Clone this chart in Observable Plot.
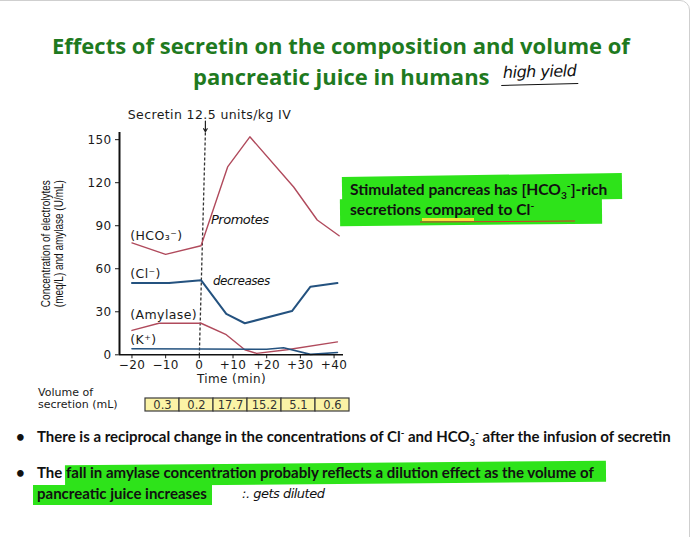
<!DOCTYPE html>
<html><head><meta charset="utf-8">
<script src="https://cdn.jsdelivr.net/npm/d3@7"></script>
<script src="https://cdn.jsdelivr.net/npm/@observablehq/plot@0.6"></script>
<style>
body{margin:0;background:#fff;}
#page{position:relative;width:691px;height:537px;overflow:hidden;background:#fff;}
#frame{position:absolute;left:-12px;top:0;width:702px;height:560px;border:1px solid #cfcfcf;border-radius:10px;box-sizing:border-box;}
.abs{position:absolute;white-space:nowrap;line-height:1;}
.title{font-family:'Open Sans',Lato,sans-serif;font-weight:700;color:#1f7a1f;font-size:22px;}
.hand{font-family:'DejaVu Sans',sans-serif;font-style:italic;font-size:13px;color:#111;letter-spacing:-0.5px;}
.txt{font-family:Lato,sans-serif;font-weight:700;font-size:15px;color:#111;}
.hl{position:absolute;background:#2ee31a;}
.lab{font-family:'DejaVu Sans',sans-serif;font-size:11px;color:#1a1a1a;}
sub,sup{font-size:65%;line-height:0;}
#chart,#table{position:absolute;}
</style></head>
<body><div id="page">
<div id="frame"></div>
<div class="abs title" style="left:52px;top:34px;">Effects of secretin on the composition and volume of</div>
<div class="abs title" style="left:193px;top:65px;">pancreatic juice in humans</div>
<div class="abs hand" style="left:501px;top:64px;font-size:16px;padding:0 2px 4px 2px;border-bottom:1.2px solid #111;transform:rotate(-1.5deg);">high yield</div>

<div class="hl" style="left:342px;top:175px;width:280px;height:26px;transform:rotate(-0.8deg);"></div>
<div class="hl" style="left:340px;top:198px;width:262px;height:27px;transform:rotate(-0.6deg);"></div>
<div class="abs" style="left:422px;top:218px;width:52px;height:3px;background:#f3e23a;"></div>
<div class="abs" style="left:420px;top:221px;width:155px;height:1.2px;background:#d93030;transform:rotate(-0.4deg);"></div>
<div class="abs txt" style="left:350px;top:182px;font-size:15.6px;">Stimulated pancreas has [HCO<sub>3</sub><sup>-</sup>]-rich</div>
<div class="abs txt" style="left:350px;top:202px;font-size:15.6px;">secretions compared to Cl<sup>-</sup></div>

<div id="chart" style="left:0;top:100px;"></div>
<div class="abs hand" style="left:211px;top:213px;">Promotes</div>
<div class="abs hand" style="left:213px;top:275px;font-size:12px;">decreases</div>

<div class="abs lab" style="left:38px;top:386.5px;">Volume of</div>
<div class="abs lab" style="left:38px;top:398.5px;">secretion (mL)</div>
<div id="table" style="left:141.7px;top:397px;"></div>

<div class="hl" style="left:65px;top:463px;width:541px;height:21px;transform:rotate(-0.5deg);"></div>
<div class="hl" style="left:33px;top:485px;width:179px;height:20px;"></div>
<div class="abs txt" style="left:16px;top:429px;">•</div>
<div class="abs txt" style="left:37px;top:429px;">There is a reciprocal change in the concentrations of Cl<sup>-</sup> and HCO<sub>3</sub><sup>-</sup> after the infusion of secretin</div>
<div class="abs txt" style="left:16px;top:465px;">•</div>
<div class="abs txt" style="left:37px;top:465px;">The fall in amylase concentration probably reflects a dilution effect as the volume of</div>
<div class="abs txt" style="left:37px;top:486px;">pancreatic juice increases</div>
<div class="abs hand" style="left:242px;top:487px;">:. gets diluted</div>
</div>
<script>
// ---- data ----
const hco3Time = [-20, -10, 0.5, 8.4, 15, 28, 35, 41.5];
const hco3Val  = [78, 70, 76, 131, 152, 117, 94, 83];
const clTime   = [-20, -9, 0.5, 8, 13.5, 27.5, 33, 41];
const clVal    = [50, 50, 52, 28.5, 22, 30.5, 47.5, 50];
const amyTime  = [-20, -12, 0.5, 8, 13.5, 17, 26, 41];
const amyVal   = [17, 22, 22, 14, 3.5, 1, 3.5, 9];
const kTime    = [-20, 0, 20, 25, 33, 41];
const kVal     = [4.2, 4, 3.9, 4.9, 0.3, 1.6];
const seriesNames = ["(HCO₃⁻)", "(Cl⁻)", "(Amylase)", "(K⁺)"];
const seriesLabelY = [82.5, 56, 27.5, 10];
const xTicks = [-20, -10, 0, 10, 20, 30, 40];
const xTickLabels = ["−20", "−10", "0", "+10", "+20", "+30", "+40"];
const yTicks = [0, 30, 60, 90, 120, 150];
const xDomain = [-23.7, 42.8];
const yDomain = [0, 155];
const intervals = ["−20 to −10", "−10 to 0", "0 to +10", "+10 to +20", "+20 to +30", "+30 to +40"];
const volumes = ["0.3", "0.2", "17.7", "15.2", "5.1", "0.6"];
const injection = {label: "Secretin 12.5 units/kg IV", time: 0};
const yLabelLines = ["Concentration of electrolytes", "(meq/L) and amylase (U/mL)"];

const red = "#b04a5c", blue = "#24527f";
const pts = (t, v) => t.map((x, i) => ({x, y: v[i]}));
const series = [
  {name: seriesNames[0], data: pts(hco3Time, hco3Val), color: red, w: 1.4},
  {name: seriesNames[1], data: pts(clTime, clVal), color: blue, w: 2},
  {name: seriesNames[2], data: pts(amyTime, amyVal), color: red, w: 1.4},
  {name: seriesNames[3], data: pts(kTime, kVal), color: blue, w: 1.6}
];

const chart = Plot.plot({
  width: 360, height: 290,
  marginLeft: 119, marginRight: 17, marginTop: 32, marginBottom: 35.7,
  style: {fontFamily: "'DejaVu Sans', sans-serif", fontSize: "12px", color: "#1a1a1a", background: "transparent", overflow: "visible", letterSpacing: "0.4px"},
  x: {domain: xDomain, ticks: xTicks, tickFormat: d => xTickLabels[xTicks.indexOf(d)], tickSize: 4, tickPadding: 2, label: null},
  y: {domain: yDomain, ticks: yTicks, tickSize: 4, tickPadding: 4, label: null},
  marks: [
    Plot.link([injection], {x1: d => d.time + 1.8, y1: yDomain[1], x2: d => d.time, y2: 0, stroke: "#333", strokeWidth: 1.3, strokeDasharray: "3,2"}),
    Plot.arrow([injection], {x1: d => d.time + 1.8, y1: 163, x2: d => d.time + 1.8, y2: 155.5, stroke: "#222", strokeWidth: 1.2, headLength: 6}),
    Plot.text([injection], {x: d => d.time + 3, y: 167, text: "label", fontSize: 12.5}),
    ...series.map(s => Plot.line(s.data, {x: "x", y: "y", stroke: s.color, strokeWidth: s.w})),
    Plot.text(seriesNames, {x: -20.5, y: (d, i) => seriesLabelY[i], text: d => d, textAnchor: "start", fontSize: 12.5}),
    Plot.ruleY([0], {stroke: "#111", strokeWidth: 1.6}),
    Plot.ruleX([xDomain[0]], {y1: 0, y2: yDomain[1], stroke: "#111", strokeWidth: 2}),
    Plot.text([yLabelLines[0]], {frameAnchor: "left", textAnchor: "middle", dx: -74, rotate: -90, fontFamily: "'Liberation Sans', Arial, sans-serif", fontSize: 12.5, fill: "#111", className: "ylab"}),
    Plot.text([yLabelLines[1]], {frameAnchor: "left", textAnchor: "middle", dx: -61, rotate: -90, fontFamily: "'Liberation Sans', Arial, sans-serif", fontSize: 12.5, fill: "#111", className: "ylab"}),
    Plot.text(["Time (min)"], {frameAnchor: "bottom", dy: 28, fontSize: 12})
  ]
});
// condense the rotated axis title like the narrow face in the reference
d3.select(chart).selectAll(".ylab text").attr("textLength", 127).attr("lengthAdjust", "spacingAndGlyphs").style("letter-spacing", "0");
document.getElementById("chart").appendChild(chart);

const volumeRows = intervals.map((k, i) => ({interval: k, vol: volumes[i]}));
const table = Plot.plot({
  width: 210, height: 15, margin: 1,
  style: {fontFamily: "'DejaVu Sans', sans-serif", fontSize: "11.5px", background: "transparent", overflow: "visible"},
  x: {type: "band", domain: intervals, padding: 0, axis: null},
  marks: [
    Plot.cell(volumeRows, {x: "interval", fill: "#fbf3a6", stroke: "#3b3b3b", strokeWidth: 1.2, inset: 0}),
    Plot.text(volumeRows, {x: "interval", text: "vol", fill: "#333", frameAnchor: "middle", fontSize: 11.5})
  ]
});
document.getElementById("table").appendChild(table);
</script>
</body></html>
